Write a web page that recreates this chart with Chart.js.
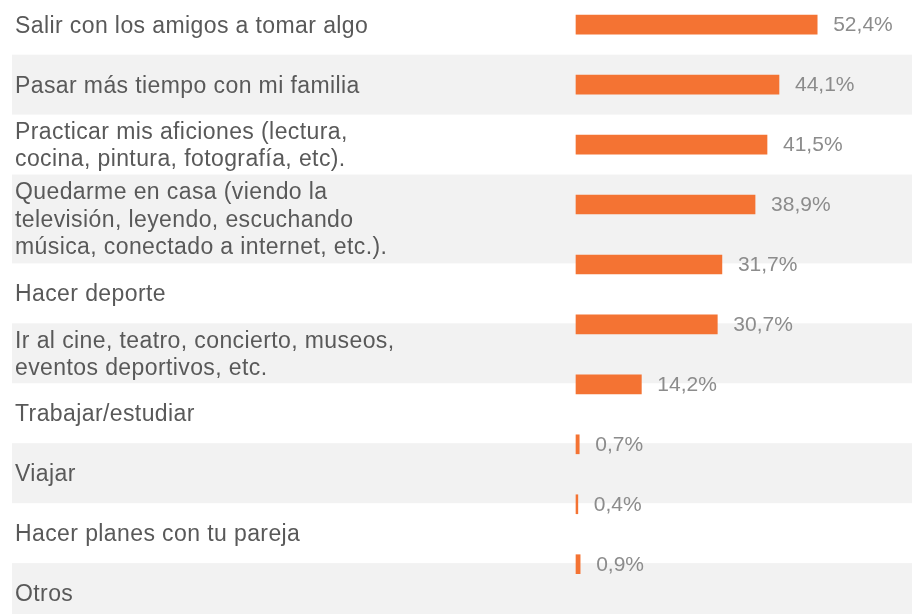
<!DOCTYPE html>
<html>
<head>
<meta charset="utf-8">
<script src="https://cdn.jsdelivr.net/npm/chart.js@4"></script>
<style>
  html, body { margin: 0; padding: 0; background: #fff; }
  canvas { display: block; }
</style>
</head>
<body>
<canvas id="chart" width="912" height="614"></canvas>
<script>
// datos
const categories = [
  ["Salir con los amigos a tomar algo"],
  ["Pasar más tiempo con mi familia"],
  ["Practicar mis aficiones (lectura,", "cocina, pintura, fotografía, etc)."],
  ["Quedarme en casa (viendo la", "televisión, leyendo, escuchando", "música, conectado a internet, etc.)."],
  ["Hacer deporte"],
  ["Ir al cine, teatro, concierto, museos,", "eventos deportivos, etc."],
  ["Trabajar/estudiar"],
  ["Viajar"],
  ["Hacer planes con tu pareja"],
  ["Otros"]
];
const values = [52.4, 44.1, 41.5, 38.9, 31.7, 30.7, 14.2, 0.7, 0.4, 0.9];
const valueLabels = ["52,4%", "44,1%", "41,5%", "38,9%", "31,7%", "30,7%", "14,2%", "0,7%", "0,4%", "0,9%"];

const ORANGE = "#F47333";
const LABEL_COLOR = "#595959";
const VALUE_COLOR = "#8C8C8C";
const BAND = "#F2F2F2";
const LINE_H = 27.5;

// bandas alternas y textos de la izquierda
const tablePlugin = {
  id: "table",
  beforeDatasetsDraw(chart) {
    const ctx = chart.ctx, y = chart.scales.y;
    const step = y.getPixelForValue(1) - y.getPixelForValue(0);
    let top = y.getPixelForValue(0) - step / 2;
    chart.$rows = [];
    categories.forEach((lines, i) => {
      const h = Math.max(step, lines.length * 29.6);
      if (i % 2 === 1) {
        ctx.fillStyle = BAND;
        ctx.fillRect(12, top, chart.width - 12, h);
      }
      chart.$rows.push({ top, h });
      top += h;
    });
  },
  afterDatasetsDraw(chart) {
    const ctx = chart.ctx;
    ctx.save();
    ctx.textBaseline = "alphabetic";
    ctx.textAlign = "left";
    ctx.font = "23px 'Liberation Sans', Arial, sans-serif";
    ctx.letterSpacing = "0.4px";
    ctx.fillStyle = LABEL_COLOR;
    categories.forEach((lines, i) => {
      const r = chart.$rows[i];
      const c = r.top + r.h / 2;
      let b = c - (lines.length - 1) * LINE_H / 2 + 8;
      lines.forEach(t => { ctx.fillText(t, 15, b); b += LINE_H; });
    });

    // etiquetas de valor
    ctx.letterSpacing = "0px";
    ctx.font = "21px 'Liberation Sans', Arial, sans-serif";
    ctx.fillStyle = VALUE_COLOR;
    ctx.textBaseline = "middle";
    const meta = chart.getDatasetMeta(0);
    meta.data.forEach((bar, i) => {
      ctx.fillText(valueLabels[i], bar.x + 16, bar.y + 1);
    });
    ctx.restore();
  }
};

new Chart(document.getElementById("chart"), {
  type: "bar",
  data: {
    labels: categories.map(l => l.join(" ")),
    datasets: [{
      data: values,
      backgroundColor: ORANGE,
      borderWidth: 0,
      barThickness: 19,
      clip: false
    }]
  },
  options: {
    indexAxis: "y",
    responsive: false,
    animation: false,
    layout: { padding: { left: 576, right: 0, top: 24.7, bottom: 49.8 } },
    scales: {
      x: { display: false, min: 0, max: 73 },
      y: { display: false, offset: false }
    },
    plugins: {
      legend: { display: false },
      tooltip: { enabled: false }
    }
  },
  plugins: [tablePlugin]
});
</script>
</body>
</html>
